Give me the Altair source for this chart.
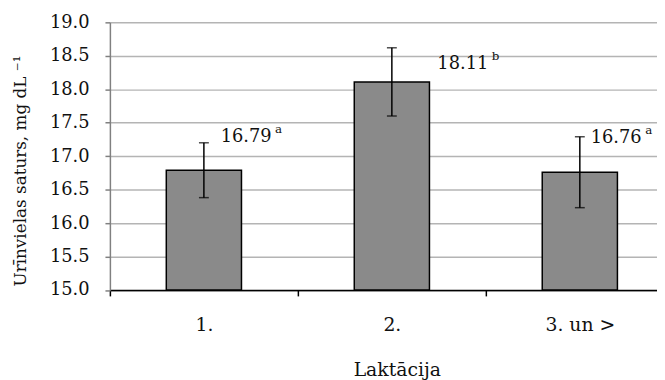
import altair as alt
import pandas as pd

categories = ["1.", "2.", "3. un >"]
means = [16.79, 18.11, 16.76]
errors = [0.41, 0.51, 0.53]
value_labels = ["16.79", "18.11", "16.76"]
letters = ["a", "b", "a"]
y_ticks = [15.0, 15.5, 16.0, 16.5, 17.0, 17.5, 18.0, 18.5, 19.0]

df = pd.DataFrame({
    "cat": categories,
    "mean": means,
    "lo": [m - e for m, e in zip(means, errors)],
    "hi": [m + e for m, e in zip(means, errors)],
    "label": value_labels,
    "letter": letters,
})

FONT = "DejaVu Serif"
W = 553
H = 270.5

xscale = alt.Scale(domain=categories, range=[0, 570], paddingInner=0, paddingOuter=0)
yscale = alt.Scale(domain=[15, 19], nice=False, zero=False)

x_axis = alt.Axis(tickBand="extent", tickSize=6, tickColor="black",
                  tickWidth=1.5, domainColor="black", domainWidth=1.5,
                  labelFont=FONT, labelFontSize=19, labelColor="#111111",
                  labelAngle=0, labelBaseline="alphabetic", labelPadding=35,
                  grid=False, title="Laktācija", titleFont=FONT,
                  titleFontSize=19, titleFontWeight="normal", titleColor="#111111",
                  titleBaseline="alphabetic", titleAlign="center",
                  titleX=290, titleY=86)

y_axis = alt.Axis(values=y_ticks, format=".1f", tickSize=5, tickColor="#808080",
                  tickWidth=1.5, domainColor="#808080", domainWidth=1.5,
                  labelFont=FONT, labelFontSize=18, labelColor="#111111",
                  labelPadding=16, labelOverlap=False, grid=True,
                  gridColor="#b4b4b4", gridWidth=1.5,
                  title="Urīnvielas saturs, mg dL ⁻¹", titleFont=FONT,
                  titleFontSize=17, titleFontWeight="normal", titleColor="#111111",
                  titleAngle=270, titleAlign="left", titleBaseline="alphabetic",
                  titleX=-85, titleY=266.5)


def xc():
    return alt.X("cat:N", scale=xscale, sort=categories, axis=x_axis)


def yq(field):
    return alt.Y(field, type="quantitative", scale=yscale, axis=y_axis)


base = alt.Chart(df)

bars = base.mark_bar(width=76, fill="#8a8a8a", stroke="black", strokeWidth=1.5).encode(
    x=xc(), y=yq("mean"), y2=alt.datum(15.0))

err = base.mark_rule(color="black", strokeWidth=1.5).encode(
    x=xc(), y=yq("lo"), y2="hi:Q")

cap_lo = base.mark_tick(size=10, thickness=1.5, color="black").encode(x=xc(), y=yq("lo"))
cap_hi = base.mark_tick(size=10, thickness=1.5, color="black").encode(x=xc(), y=yq("hi"))

label_offsets = [(17, -1), (46, 21), (11, 6)]
text_layers = []
for cat, (dx, dy) in zip(categories, label_offsets):
    sub = base.transform_filter(alt.datum.cat == cat)
    t = sub.mark_text(align="left", baseline="alphabetic", dx=dx, dy=dy,
                      font=FONT, fontSize=18, color="#111111").encode(
        x=xc(), y=yq("hi"), text="label:N")
    s = sub.mark_text(align="left", baseline="alphabetic", dx=dx + 55, dy=dy - 9,
                      font=FONT, fontSize=12, color="#111111").encode(
        x=xc(), y=yq("hi"), text="letter:N")
    text_layers += [t, s]

chart = alt.layer(bars, err, cap_lo, cap_hi, *text_layers).properties(
    width=W, height=H,
    autosize=alt.AutoSizeParams(type="none"),
    padding={"left": 103, "top": 12.5, "right": 0, "bottom": 89},
    background="white",
).configure_view(stroke=None)

chart.save("out.html", embed_options={"renderer": "svg", "actions": False})
